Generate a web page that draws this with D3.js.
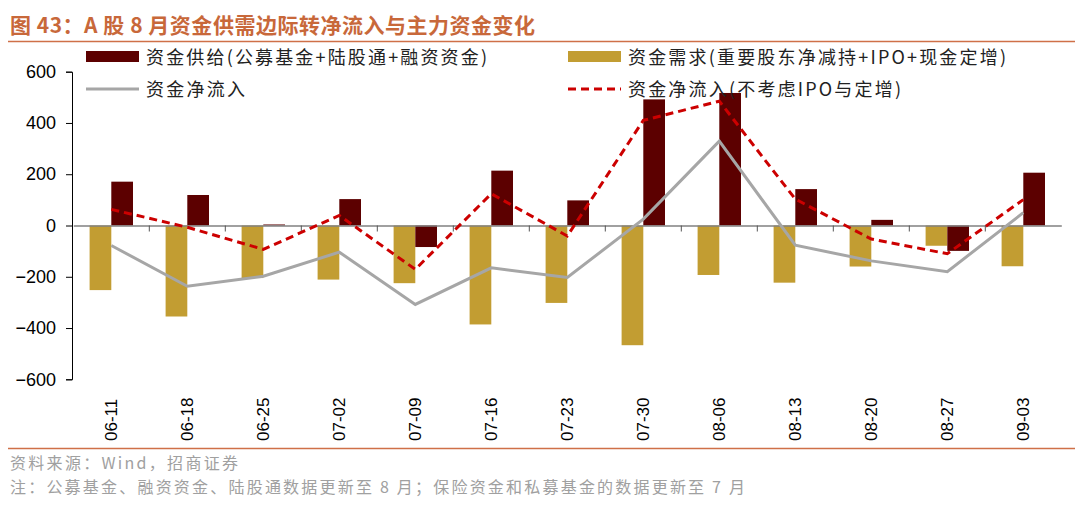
<!DOCTYPE html>
<html>
<head>
<meta charset="utf-8">
<script src="https://cdn.jsdelivr.net/npm/d3@7"></script>
<style>
  body { margin: 0; background: #fff; }
  svg { display: block; }
</style>
</head>
<body>
<div id="container"></div>
<script>
// data
var dates = ['06-11', '06-18', '06-25', '07-02', '07-09', '07-16', '07-23',
             '07-30', '08-06', '08-13', '08-20', '08-27', '09-03'];
var supply = [171, 119, 4, 103, -84, 214, 98, 492, 517, 142, 22, -99, 206];
var demand = [-252, -355, -205, -211, -225, -386, -302, -467, -193, -223, -160, -79, -159];
var netFlow = [-78, -237, -198, -104, -308, -165, -203, 25, 329, -77, -138, -180, 50];
var netFlowExIpo = [63, -7, -93, 39, -171, 124, -41, 410, 485, 103, -53, -110, 101];
var yTicks = [-600, -400, -200, 0, 200, 400, 600];

var titleText = '图 43：A 股 8 月资金供需边际转净流入与主力资金变化';
var legendNames = ['资金供给(公募基金+陆股通+融资资金)', '资金需求(重要股东净减持+IPO+现金定增)',
                   '资金净流入', '资金净流入(不考虑IPO与定增)'];
var sourceText = '资料来源：Wind，招商证券';
var noteText = '注：公募基金、融资资金、陆股通数据更新至 8 月；保险资金和私募基金的数据更新至 7 月';

var colSupply = '#5c0000', colDemand = '#c29d32', colNet = '#a6a6a6', colNetEx = '#cc0000';
var accent = '#cf7048';
var cjk = '"Noto Sans CJK SC", sans-serif';
var latin = '"Liberation Sans", Arial, sans-serif';

var W = 1080, H = 510;
var svg = d3.select('#container').append('svg')
    .attr('width', W).attr('height', H);

// title + rules
svg.append('text')
    .attr('x', 10).attr('y', 33)
    .attr('font-family', cjk).attr('font-size', 21).attr('font-weight', 'bold')
    .attr('fill', '#c8683a')
    .attr('textLength', 525).attr('lengthAdjust', 'spacing')
    .text(titleText);
svg.append('line').attr('x1', 8).attr('x2', 1075).attr('y1', 41.5).attr('y2', 41.5)
    .attr('stroke', accent).attr('stroke-width', 1.5);
svg.append('line').attr('x1', 8).attr('x2', 1075).attr('y1', 448.5).attr('y2', 448.5)
    .attr('stroke', accent).attr('stroke-width', 1.5);

svg.append('text').attr('x', 10).attr('y', 469)
    .attr('font-family', cjk).attr('font-size', 16).attr('fill', '#a0a0a0')
    .attr('textLength', 228).attr('lengthAdjust', 'spacing')
    .text(sourceText);
svg.append('text').attr('x', 10).attr('y', 493)
    .attr('font-family', cjk).attr('font-size', 16).attr('fill', '#a0a0a0')
    .attr('textLength', 735).attr('lengthAdjust', 'spacing')
    .text(noteText);

// scales
var x = d3.scaleBand().domain(dates).range([73.3, 1061.3]).paddingInner(0).paddingOuter(0);
var y = d3.scaleLinear().domain([-600, 600]).range([379.3, 71.7]);
var barW = 21.7;

// y axis
var yAxis = d3.axisLeft(y).tickValues(yTicks).tickSize(6).tickPadding(10);
var gy = svg.append('g').attr('transform', 'translate(72,0)').call(yAxis);
gy.select('.domain').attr('stroke', '#000');
gy.selectAll('.tick line').attr('stroke', '#000');
gy.selectAll('.tick text').attr('font-family', latin).attr('font-size', 18).attr('fill', '#000');

// bars
svg.append('g').selectAll('rect.demand').data(demand).enter().append('rect')
    .attr('x', function(d, i) { return x(dates[i]) + x.bandwidth() / 2 - barW; })
    .attr('width', barW)
    .attr('y', function(d) { return y(Math.max(0, d)); })
    .attr('height', function(d) { return Math.abs(y(d) - y(0)); })
    .attr('fill', colDemand);

svg.append('g').selectAll('rect.supply').data(supply).enter().append('rect')
    .attr('x', function(d, i) { return x(dates[i]) + x.bandwidth() / 2; })
    .attr('width', barW)
    .attr('y', function(d) { return y(Math.max(0, d)); })
    .attr('height', function(d) { return Math.abs(y(d) - y(0)); })
    .attr('fill', colSupply);

// zero axis with category ticks
var xAxis = d3.axisBottom(x).tickSize(0).tickFormat('');
var gx = svg.append('g').attr('transform', 'translate(0,' + y(0) + ')').call(xAxis);
gx.select('.domain').attr('stroke', '#808080').attr('stroke-width', 1.5);
gx.selectAll('.tick').remove();
gx.selectAll('line.cat').data(dates.slice(1)).enter().append('line')
    .attr('x1', function(d) { return x(d); }).attr('x2', function(d) { return x(d); })
    .attr('y1', 0).attr('y2', 6).attr('stroke', '#555');

// x labels (rotated)
svg.append('g').selectAll('text').data(dates).enter().append('text')
    .attr('transform', function(d) {
        return 'translate(' + (x(d) + x.bandwidth() / 2 + 6) + ',441) rotate(-90)';
    })
    .attr('font-family', latin).attr('font-size', 17).attr('fill', '#000')
    .text(function(d) { return d; });

// lines
var lineGen = d3.line()
    .x(function(d, i) { return x(dates[i]) + x.bandwidth() / 2; })
    .y(function(d) { return y(d); });

svg.append('path').datum(netFlow)
    .attr('d', lineGen).attr('fill', 'none')
    .attr('stroke', colNet).attr('stroke-width', 3);

svg.append('path').datum(netFlowExIpo)
    .attr('d', lineGen).attr('fill', 'none')
    .attr('stroke', colNetEx).attr('stroke-width', 3)
    .attr('stroke-dasharray', '8,5');

// legend
var legend = [
    { name: legendNames[0], x: 86, y: 57, len: 341, type: 'rect', color: colSupply },
    { name: legendNames[1], x: 568, y: 57, len: 378, type: 'rect', color: colDemand },
    { name: legendNames[2], x: 86, y: 89, len: 99, type: 'line', color: colNet },
    { name: legendNames[3], x: 568, y: 89, len: 273, type: 'dash', color: colNetEx }
];
var lg = svg.append('g').selectAll('g').data(legend).enter().append('g');
lg.filter(function(d) { return d.type === 'rect'; }).append('rect')
    .attr('x', function(d) { return d.x; }).attr('y', function(d) { return d.y - 6; })
    .attr('width', 53).attr('height', 11).attr('fill', function(d) { return d.color; });
lg.filter(function(d) { return d.type !== 'rect'; }).append('line')
    .attr('x1', function(d) { return d.x; }).attr('x2', function(d) { return d.x + 53; })
    .attr('y1', function(d) { return d.y; }).attr('y2', function(d) { return d.y; })
    .attr('stroke', function(d) { return d.color; }).attr('stroke-width', 3)
    .attr('stroke-dasharray', function(d) { return d.type === 'dash' ? '8,5' : null; });
lg.append('text')
    .attr('x', function(d) { return d.x + 60; }).attr('y', function(d) { return d.y + 7; })
    .attr('font-family', cjk).attr('font-size', 18).attr('fill', '#222')
    .attr('textLength', function(d) { return d.len; }).attr('lengthAdjust', 'spacing')
    .text(function(d) { return d.name; });
</script>
</body>
</html>
